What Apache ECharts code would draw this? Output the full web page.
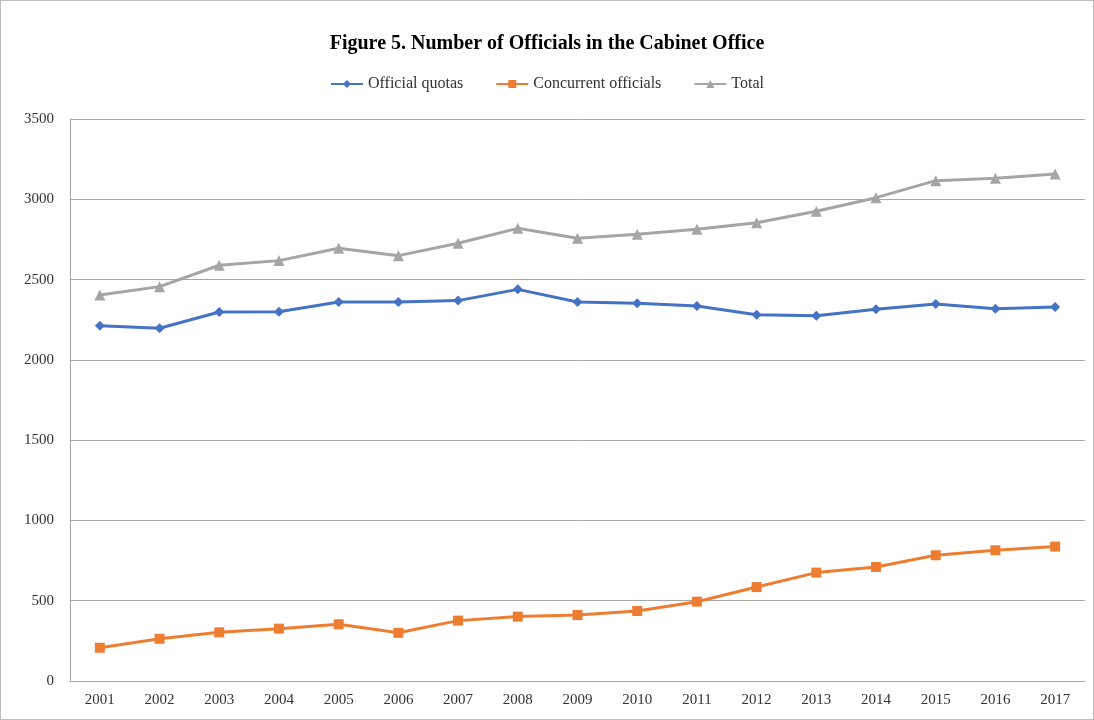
<!DOCTYPE html>
<html>
<head>
<meta charset="utf-8">
<script src="https://cdn.jsdelivr.net/npm/echarts@6/dist/echarts.min.js"></script>
<style>
  html, body { margin: 0; padding: 0; background: #fff; }
  #chart { width: 1092px; height: 718px; border: 1px solid #bdbdbd; }
</style>
</head>
<body>
<div id="chart"></div>
<script>
// Cabinet Office staffing, 2001–2017
const years = ['2001','2002','2003','2004','2005','2006','2007','2008','2009',
               '2010','2011','2012','2013','2014','2015','2016','2017'];
const officialQuotas = [2213, 2197, 2298, 2300, 2360, 2360, 2369, 2439, 2360,
                        2352, 2335, 2281, 2275, 2315, 2348, 2319, 2329];
const concurrentOfficials = [207, 263, 303, 326, 353, 300, 376, 401, 411,
                             436, 494, 585, 675, 710, 783, 814, 837];
const totalOfficials = [2404, 2456, 2589, 2618, 2695, 2649, 2726, 2819, 2757,
                        2782, 2813, 2854, 2925, 3010, 3116, 3131, 3157];
const yTicks = [0, 500, 1000, 1500, 2000, 2500, 3000, 3500];

const serif = '"Liberation Serif", "DejaVu Serif", serif';
const chart = echarts.init(document.getElementById('chart'));

function lineSeries(name, data, color, symbol, size) {
  return {
    name, type: 'line', data,
    symbol, symbolSize: size,
    lineStyle: { color, width: 3 },
    itemStyle: { color },
    emphasis: { disabled: true },
    animation: false
  };
}

chart.setOption({
  backgroundColor: '#fff',
  title: {
    text: 'Figure 5. Number of Officials in the Cabinet Office',
    left: 'center', top: 28,
    textStyle: { fontFamily: serif, fontSize: 20, fontWeight: 'bold', color: '#000' }
  },
  legend: {
    top: 70, left: 'center',
    itemWidth: 32, itemHeight: 10, itemGap: 32,
    textStyle: { fontFamily: serif, fontSize: 16, color: '#333' },
    data: ['Official quotas', 'Concurrent officials', 'Total']
  },
  grid: { left: 69, right: 8, top: 118, bottom: 38, containLabel: false },
  xAxis: {
    type: 'category', data: years, boundaryGap: true,
    axisLine: { lineStyle: { color: '#a6a6a6', width: 1 } },
    axisTick: { show: false },
    axisLabel: { fontFamily: serif, fontSize: 15, color: '#333', margin: 12 }
  },
  yAxis: {
    type: 'value', min: yTicks[0], max: yTicks[yTicks.length - 1], interval: 500,
    axisLine: { show: true, lineStyle: { color: '#a6a6a6', width: 1 } },
    axisTick: { show: false },
    splitLine: { lineStyle: { color: '#a6a6a6', width: 1 } },
    axisLabel: { fontFamily: serif, fontSize: 15, color: '#333', margin: 16,
                 formatter: v => String(v) }
  },
  series: [
    lineSeries('Official quotas', officialQuotas, '#4472C4', 'diamond', 10),
    lineSeries('Concurrent officials', concurrentOfficials, '#ED7D31', 'rect', 10),
    lineSeries('Total', totalOfficials, '#A5A5A5', 'triangle', 11)
  ]
});
</script>
</body>
</html>
